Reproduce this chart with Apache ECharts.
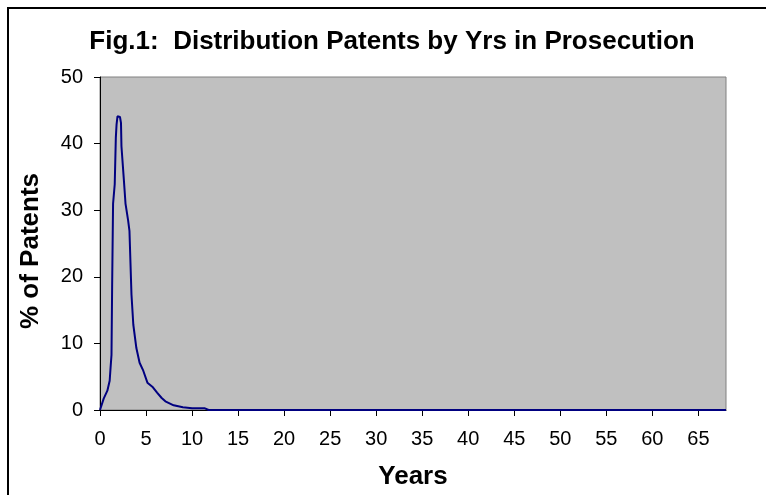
<!DOCTYPE html>
<html>
<head>
<meta charset="utf-8">
<script src="https://cdn.jsdelivr.net/npm/echarts@6/dist/echarts.min.js"></script>
<style>
    html, body { margin: 0; padding: 0; background: #fff; }
    #chart { width: 766px; height: 495px; }
</style>
</head>
<body>
<div id="chart"></div>
<script>
    // years in prosecution vs share of patents
    var years = [0, 0.4, 0.8, 1.05, 1.15, 1.25, 1.32, 1.42, 1.6, 1.72, 1.8, 1.9, 2.05, 2.17, 2.28, 2.33,
        2.6, 2.77, 3.05, 3.2, 3.42, 3.62, 3.95, 4.3, 4.7, 5.15, 5.75, 6.2, 6.7, 7.1, 8.0, 9.0, 10, 11.4, 11.8,
        15, 20, 25, 30, 35, 40, 45, 50, 55, 60, 65, 68];
    var pct = [0, 1.7, 2.9, 4.4, 6.4, 8.3, 18.8, 31.0, 33.9, 40.9, 42.9, 44.1, 44.4, 44.0, 43.1, 39.6,
        34.4, 31.0, 28.5, 26.9, 17.3, 12.8, 9.3, 7.1, 5.9, 4.1, 3.4, 2.6, 1.8, 1.3, 0.7, 0.4, 0.25, 0.25, 0,
        0, 0, 0, 0, 0, 0, 0, 0, 0, 0, 0, 0];

    var points = years.map(function (y, i) { return [y, pct[i]]; });

    var font = 'Liberation Sans, Arial, sans-serif';
    var chart = echarts.init(document.getElementById('chart'));

    var option = {
        animation: false,
        title: {
            text: 'Fig.1:  Distribution Patents by Yrs in Prosecution',
            left: 387,
            top: 24,
            textAlign: 'center',
            textStyle: { fontFamily: font, fontSize: 26, fontWeight: 'bold', color: '#000' }
        },
        graphic: [{
            type: 'rect',
            shape: { x: 8, y: 8, width: 900, height: 700 },
            style: { fill: 'none', stroke: '#000', lineWidth: 2 },
            silent: true
        }, {
            // y axis title, sits a little below the axis middle in the original
            type: 'text',
            x: 31,
            y: 251,
            rotation: Math.PI / 2,
            style: {
                text: '% of Patents',
                font: 'bold 26px ' + font,
                fill: '#000',
                align: 'center',
                verticalAlign: 'middle'
            },
            silent: true
        }],
        grid: {
            left: 100,
            right: 40,
            top: 77,
            bottom: 82,
            show: true,
            backgroundColor: '#c0c0c0',
            borderColor: '#808080',
            borderWidth: 1
        },
        xAxis: {
            type: 'value',
            min: 0,
            max: 68,
            interval: 5,
            name: 'Years',
            nameLocation: 'middle',
            nameGap: 54,
            nameTextStyle: { fontFamily: font, fontSize: 26, fontWeight: 'bold', color: '#000' },
            axisLine: { lineStyle: { color: '#000', width: 1 } },
            axisTick: { length: 6, lineStyle: { color: '#000' } },
            axisLabel: { fontFamily: font, fontSize: 20, color: '#000', margin: 19, showMaxLabel: false },
            splitLine: { show: false }
        },
        yAxis: {
            type: 'value',
            min: 0,
            max: 50,
            interval: 10,
            axisLine: { show: true, lineStyle: { color: '#000', width: 1 } },
            axisTick: { show: true, length: 6, lineStyle: { color: '#000' } },
            axisLabel: { fontFamily: font, fontSize: 20, color: '#000', margin: 17 },
            splitLine: { show: false }
        },
        series: [{
            type: 'line',
            data: points,
            showSymbol: false,
            lineStyle: { color: '#000080', width: 2 },
            clip: false
        }]
    };

    chart.setOption(option);
</script>
</body>
</html>
